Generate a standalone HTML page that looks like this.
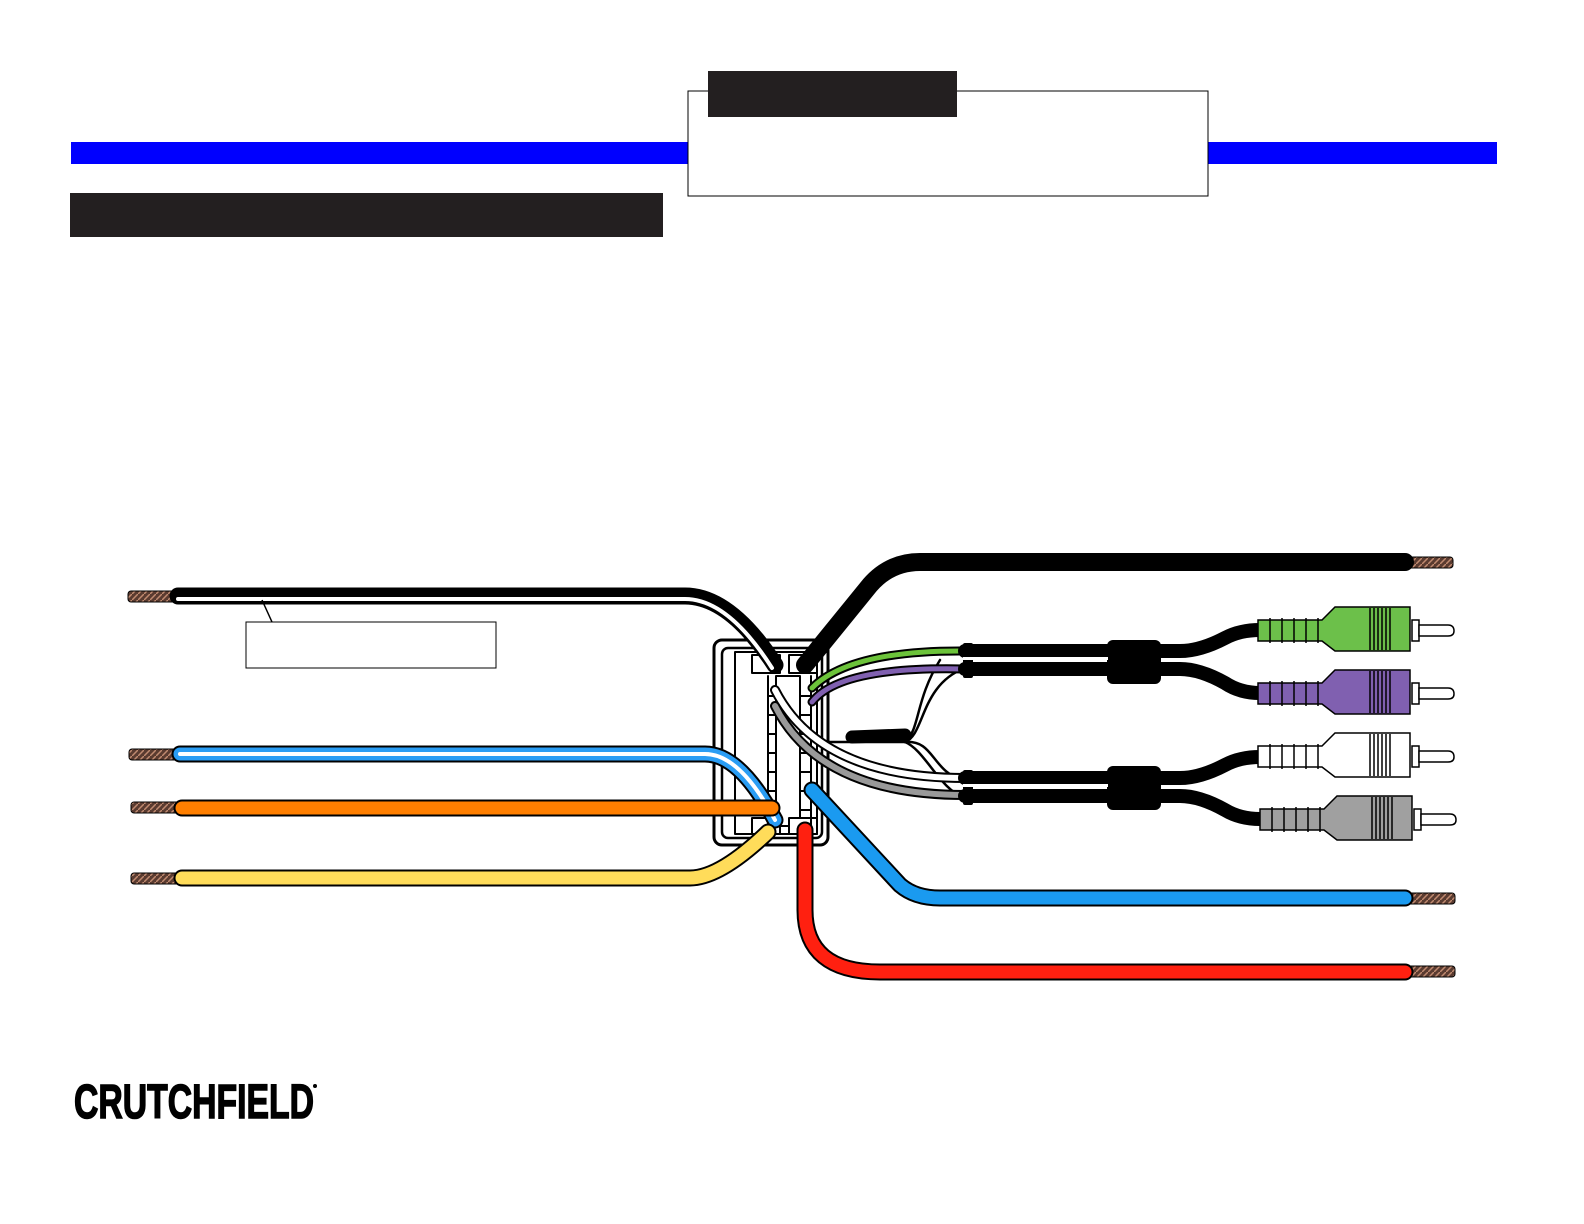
<!DOCTYPE html>
<html><head><meta charset="utf-8"><style>
html,body{margin:0;padding:0;background:#fff;overflow:hidden;width:1584px;height:1224px;}
svg{display:block;}
</style></head><body>
<svg width="1584" height="1224" viewBox="0 0 1584 1224" xmlns="http://www.w3.org/2000/svg">
<defs>
<pattern id="cu" width="6" height="6" patternUnits="userSpaceOnUse"><rect width="6" height="6" fill="#5a3b30"/><path d="M0 6L6 0" stroke="#c08a70" stroke-width="1.5"/></pattern>
</defs>
<rect x="71" y="142" width="1426" height="22" fill="#0000ff"/>
<rect x="688" y="91" width="520" height="105" fill="#fff" stroke="#000" stroke-width="1"/>
<rect x="708" y="71" width="249" height="46" fill="#231f20"/>
<rect x="70" y="193" width="593" height="44" fill="#231f20"/>

<g fill="none" stroke-linecap="round" stroke-linejoin="round">
<g stroke="#000" stroke-width="1" fill="url(#cu)">
<rect x="128" y="591" width="52" height="11" rx="3"/>
<rect x="129" y="749" width="52" height="11" rx="3"/>
<rect x="131" y="802" width="52" height="11" rx="3"/>
<rect x="131" y="873" width="52" height="11" rx="3"/>
<rect x="1400" y="557" width="53" height="11" rx="3"/>
<rect x="1400" y="893" width="55" height="11" rx="3"/>
<rect x="1400" y="966" width="55" height="11" rx="3"/>
</g>

<rect x="714" y="640" width="114" height="205" rx="8" fill="#fff" stroke="#000" stroke-width="3"/>
<rect x="722" y="648" width="100" height="190" rx="6" fill="#fff" stroke="#000" stroke-width="2.5"/>
<rect x="735" y="652" width="82" height="182" fill="#fff" stroke="#000" stroke-width="2"/>
<rect x="776" y="676" width="24" height="150" fill="#fff" stroke="#000" stroke-width="2"/>
<g stroke="#000" stroke-width="2" fill="#fff">
<rect x="752" y="655" width="28" height="18"/><rect x="789" y="655" width="28" height="18"/>
<rect x="752" y="818" width="28" height="16"/><rect x="789" y="818" width="28" height="16"/>
</g>
<g stroke="#000" stroke-width="2">
<path d="M768 696H776M768 715H776M768 734H776M768 753H776M768 772H776M768 791H776M768 810H776"/>
<path d="M800 696H810M800 715H810M800 734H810M800 753H810M800 772H810M800 791H810M800 810H810"/>
<path d="M768 676V826M811 676V826"/>
</g>

<g stroke="#000" stroke-width="2.5">
<path d="M826 742H905"/>
<path d="M905 742C920 730 915 700 940 660"/>
<path d="M905 742C925 735 920 685 965 668"/>
<path d="M905 742C935 740 930 770 965 782"/>
<path d="M905 742C925 750 940 790 965 798"/>
</g>
<path d="M852 737L905 735" stroke="#000" stroke-width="13"/>

<path d="M178 596H685Q730 596 775 665" stroke="#000" stroke-width="17"/>
<path d="M178 599H685Q728 599 772 668" stroke="#fff" stroke-width="4"/>
<path d="M180 754H705Q740 754 775 820" stroke="#000" stroke-width="17"/>
<path d="M180 754H705Q740 754 775 820" stroke="#2a9df4" stroke-width="13"/>
<path d="M180 754H705Q740 754 775 820" stroke="#fff" stroke-width="4"/>
<path d="M182 808H772" stroke="#000" stroke-width="17"/>
<path d="M182 808H772" stroke="#ff7f00" stroke-width="13"/>
<path d="M182 878H690Q720 878 768 832" stroke="#000" stroke-width="17"/>
<path d="M182 878H690Q720 878 768 832" stroke="#ffdc5a" stroke-width="13"/>

<path d="M805 665L870 585Q890 562 920 562H1405" stroke="#000" stroke-width="18"/>
<path d="M812 790L900 885Q915 898 940 898H1405" stroke="#000" stroke-width="17"/>
<path d="M812 790L900 885Q915 898 940 898H1405" stroke="#1a9af0" stroke-width="13"/>
<path d="M805 830V910Q805 972 880 972H1405" stroke="#000" stroke-width="17"/>
<path d="M805 830V910Q805 972 880 972H1405" stroke="#ff2010" stroke-width="13"/>

<path d="M812 688Q850 650 965 651" stroke="#000" stroke-width="9"/>
<path d="M812 688Q850 650 965 651" stroke="#6cc33a" stroke-width="5"/>
<path d="M812 702Q840 666 965 669" stroke="#000" stroke-width="9"/>
<path d="M812 702Q840 666 965 669" stroke="#8060b0" stroke-width="5"/>
<path d="M775 690Q820 778 965 778" stroke="#000" stroke-width="10"/>
<path d="M775 690Q820 778 965 778" stroke="#fff" stroke-width="6"/>
<path d="M775 706Q820 795 965 795" stroke="#000" stroke-width="10"/>
<path d="M775 706Q820 795 965 795" stroke="#999" stroke-width="6"/>

<g stroke="#000" stroke-width="14">
<path d="M965 651H1180Q1200 651 1225 638Q1240 630 1260 630"/>
<path d="M965 669H1180Q1200 669 1225 683Q1240 693 1260 693"/>
<path d="M965 778H1180Q1200 778 1225 765Q1240 757 1260 757"/>
<path d="M965 796H1180Q1200 796 1225 810Q1240 819 1260 819"/>
</g>
</g>
<g fill="#000">
<rect x="963" y="643" width="10" height="35" rx="2"/>
<rect x="963" y="770" width="10" height="35" rx="2"/>
<rect x="1107" y="640" width="54" height="44" rx="6"/>
<rect x="1107" y="766" width="54" height="44" rx="6"/>
<rect x="963" y="657" width="145" height="3" fill="#fff"/>
<rect x="963" y="784" width="145" height="3" fill="#fff"/>
</g>

<g stroke="#000" stroke-width="1.5">
<g transform="translate(0,0)">
<path d="M1412 620H1419V641H1412Z" fill="#fff"/>
<path d="M1419 625H1448Q1454 625 1454 631Q1454 636 1448 636H1419Z" fill="#fff"/>
<path d="M1258 620H1322L1335 607H1410V651H1335L1322 641H1258Z" fill="#6cc04a"/>
<path d="M1270 618V643M1282 618V643M1294 618V643M1306 618V643M1318 618V643M1370 608V650M1374 608V650M1378 608V650M1382 608V650M1386 608V650M1390 608V650" fill="none"/>
</g>
<g transform="translate(0,63)">
<path d="M1412 620H1419V641H1412Z" fill="#fff"/>
<path d="M1419 625H1448Q1454 625 1454 631Q1454 636 1448 636H1419Z" fill="#fff"/>
<path d="M1258 620H1322L1335 607H1410V651H1335L1322 641H1258Z" fill="#8060b0"/>
<path d="M1270 618V643M1282 618V643M1294 618V643M1306 618V643M1318 618V643M1370 608V650M1374 608V650M1378 608V650M1382 608V650M1386 608V650M1390 608V650" fill="none"/>
</g>
<g transform="translate(0,126)">
<path d="M1412 620H1419V641H1412Z" fill="#fff"/>
<path d="M1419 625H1448Q1454 625 1454 631Q1454 636 1448 636H1419Z" fill="#fff"/>
<path d="M1258 620H1322L1335 607H1410V651H1335L1322 641H1258Z" fill="#fff"/>
<path d="M1270 618V643M1282 618V643M1294 618V643M1306 618V643M1318 618V643M1370 608V650M1374 608V650M1378 608V650M1382 608V650M1386 608V650M1390 608V650" fill="none"/>
</g>
<g transform="translate(2,189)">
<path d="M1412 620H1419V641H1412Z" fill="#fff"/>
<path d="M1419 625H1448Q1454 625 1454 631Q1454 636 1448 636H1419Z" fill="#fff"/>
<path d="M1258 620H1322L1335 607H1410V651H1335L1322 641H1258Z" fill="#a0a0a0"/>
<path d="M1270 618V643M1282 618V643M1294 618V643M1306 618V643M1318 618V643M1370 608V650M1374 608V650M1378 608V650M1382 608V650M1386 608V650M1390 608V650" fill="none"/>
</g>
</g>

<path d="M262 600L272 622" stroke="#000" stroke-width="1.5"/>
<rect x="246" y="622" width="250" height="46" fill="#fff" stroke="#000" stroke-width="1"/>

<text x="74" y="1118" font-family="Liberation Sans, sans-serif" font-weight="bold" font-size="48" textLength="240" lengthAdjust="spacingAndGlyphs" fill="#000" stroke="#000" stroke-width="1.5">CRUTCHFIELD</text>
<circle cx="315" cy="1086" r="2" fill="#000"/>
</svg>
</body></html>
